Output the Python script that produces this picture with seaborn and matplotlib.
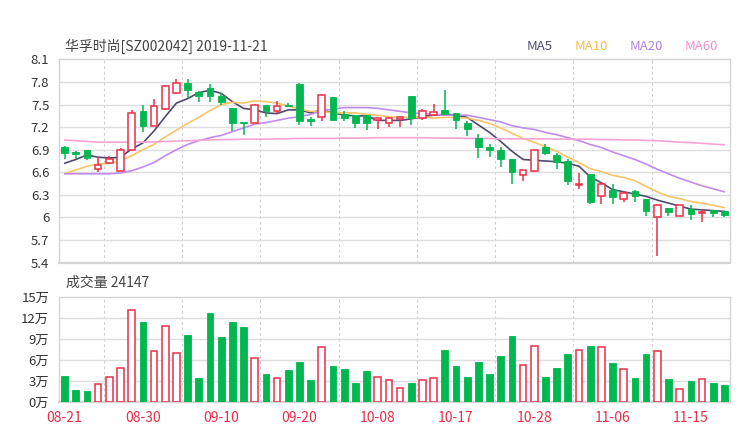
import matplotlib
matplotlib.use("Agg")
import matplotlib.pyplot as plt
import seaborn as sns
import numpy as np
import pandas as pd

# ---------------- data ----------------
dates = ["08-21", "08-22", "08-23", "08-26", "08-27", "08-28", "08-29", "08-30",
         "09-02", "09-03", "09-04", "09-05", "09-06", "09-09", "09-10", "09-11", "09-12",
         "09-16", "09-17", "09-18", "09-19", "09-20", "09-23", "09-24", "09-25", "09-26", "09-27", "09-30",
         "10-08", "10-09", "10-10", "10-11", "10-14", "10-15", "10-16", "10-17", "10-18",
         "10-21", "10-22", "10-23", "10-24", "10-25", "10-28", "10-29", "10-30", "10-31",
         "11-01", "11-04", "11-05", "11-06", "11-07", "11-08", "11-11", "11-12", "11-13",
         "11-14", "11-15", "11-18", "11-19", "11-20"]

opens = [6.94, 6.87, 6.90, 6.64, 6.72, 6.62, 6.90, 7.41, 7.21, 7.44,
         7.66, 7.79, 7.67, 7.72, 7.62, 7.46, 7.27, 7.25, 7.50, 7.41,
         7.50, 7.78, 7.31, 7.34, 7.60, 7.38, 7.36, 7.36, 7.29, 7.25,
         7.31, 7.62, 7.32, 7.36, 7.43, 7.39, 7.25, 7.05, 6.94, 6.90,
         6.77, 6.56, 6.62, 6.94, 6.83, 6.75, 6.43, 6.58, 6.28, 6.37,
         6.24, 6.35, 6.25, 6.00, 6.13, 6.02, 6.11, 6.06, 6.10, 6.08]
highs = [6.95, 6.88, 6.90, 6.80, 6.82, 6.92, 7.43, 7.50, 7.57, 7.76,
         7.84, 7.84, 7.68, 7.78, 7.65, 7.46, 7.27, 7.51, 7.50, 7.55,
         7.52, 7.79, 7.34, 7.64, 7.60, 7.41, 7.36, 7.36, 7.32, 7.34,
         7.34, 7.62, 7.44, 7.51, 7.70, 7.39, 7.28, 7.11, 6.97, 6.94,
         6.77, 6.63, 6.90, 6.97, 6.86, 6.77, 6.59, 6.58, 6.47, 6.44,
         6.35, 6.36, 6.25, 6.18, 6.13, 6.17, 6.16, 6.11, 6.10, 6.08]
lows = [6.78, 6.78, 6.76, 6.61, 6.71, 6.62, 6.90, 7.14, 7.21, 7.43,
        7.64, 7.59, 7.54, 7.54, 7.49, 7.15, 7.10, 7.25, 7.34, 7.37,
        7.47, 7.23, 7.22, 7.28, 7.29, 7.28, 7.19, 7.16, 7.17, 7.20,
        7.20, 7.23, 7.30, 7.36, 7.38, 7.17, 7.08, 6.79, 6.80, 6.67,
        6.44, 6.49, 6.60, 6.83, 6.65, 6.43, 6.38, 6.18, 6.18, 6.18,
        6.20, 6.21, 6.02, 5.48, 6.02, 6.02, 5.96, 5.94, 6.00, 6.01]
closes = [6.85, 6.84, 6.79, 6.70, 6.77, 6.89, 7.39, 7.21, 7.48, 7.75,
          7.79, 7.69, 7.61, 7.62, 7.53, 7.26, 7.25, 7.50, 7.42, 7.48,
          7.48, 7.28, 7.28, 7.63, 7.29, 7.32, 7.25, 7.25, 7.32, 7.32,
          7.33, 7.32, 7.41, 7.40, 7.38, 7.29, 7.17, 6.93, 6.90, 6.78,
          6.61, 6.63, 6.89, 6.85, 6.74, 6.48, 6.44, 6.21, 6.44, 6.27,
          6.33, 6.29, 6.08, 6.16, 6.07, 6.17, 6.05, 6.07, 6.06, 6.03]
# volume in 万 (10k shares)
volumes = [3.76, 1.71, 1.57, 2.67, 3.57, 4.86, 13.14, 11.48, 7.29, 10.86,
           7.00, 9.62, 3.48, 12.81, 9.33, 11.43, 10.71, 6.29, 4.05, 3.52,
           4.67, 5.81, 3.24, 7.86, 5.14, 4.76, 2.71, 4.43, 3.62, 3.24,
           2.10, 2.76, 3.24, 3.43, 7.52, 5.19, 3.62, 5.71, 4.10, 6.67,
           9.43, 5.33, 8.00, 3.62, 4.90, 6.90, 7.52, 8.00, 7.86, 5.62,
           4.81, 3.43, 6.95, 7.33, 3.29, 1.95, 3.05, 3.38, 2.71, 2.41]

ma5 = [6.72, 6.77, 6.83, 6.80, 6.79, 6.80, 6.91, 6.99, 7.15, 7.34,
       7.52, 7.58, 7.66, 7.69, 7.65, 7.54, 7.45, 7.43, 7.39, 7.38,
       7.43, 7.43, 7.39, 7.43, 7.39, 7.36, 7.35, 7.35, 7.29, 7.29,
       7.29, 7.31, 7.34, 7.36, 7.37, 7.36, 7.33, 7.23, 7.13, 7.01,
       6.88, 6.77, 6.76, 6.75, 6.74, 6.72, 6.68, 6.54, 6.46, 6.37,
       6.34, 6.31, 6.28, 6.23, 6.19, 6.15, 6.11, 6.10, 6.09, 6.08]
ma10 = [6.58, 6.63, 6.68, 6.71, 6.72, 6.75, 6.82, 6.90, 6.97, 7.07,
        7.16, 7.25, 7.33, 7.42, 7.50, 7.53, 7.52, 7.55, 7.54, 7.52,
        7.48, 7.44, 7.41, 7.41, 7.39, 7.39, 7.39, 7.37, 7.36, 7.34,
        7.33, 7.33, 7.34, 7.32, 7.33, 7.33, 7.32, 7.29, 7.25, 7.19,
        7.12, 7.05, 7.00, 6.94, 6.88, 6.80, 6.73, 6.65, 6.61, 6.56,
        6.53, 6.49, 6.41, 6.34, 6.28, 6.25, 6.21, 6.19, 6.16, 6.13]
ma20 = [6.58, 6.58, 6.58, 6.58, 6.58, 6.59, 6.62, 6.67, 6.73, 6.82,
        6.90, 6.97, 7.02, 7.06, 7.09, 7.14, 7.19, 7.24, 7.26, 7.29,
        7.32, 7.34, 7.37, 7.42, 7.44, 7.46, 7.46, 7.46, 7.45, 7.43,
        7.41, 7.39, 7.38, 7.37, 7.36, 7.36, 7.36, 7.33, 7.30, 7.27,
        7.22, 7.19, 7.17, 7.13, 7.10, 7.06, 7.02, 6.97, 6.93, 6.87,
        6.82, 6.77, 6.71, 6.64, 6.58, 6.52, 6.47, 6.42, 6.38, 6.34]
ma60 = [7.03, 7.02, 7.01, 7.00, 7.00, 7.00, 7.00, 7.00, 7.005, 7.01,
        7.015, 7.02, 7.025, 7.03, 7.035, 7.035, 7.04, 7.04, 7.04, 7.045,
        7.045, 7.05, 7.05, 7.05, 7.05, 7.055, 7.055, 7.055, 7.06, 7.06,
        7.06, 7.06, 7.06, 7.055, 7.055, 7.055, 7.05, 7.05, 7.05, 7.045,
        7.045, 7.045, 7.045, 7.045, 7.04, 7.04, 7.04, 7.04, 7.035, 7.035,
        7.03, 7.03, 7.025, 7.02, 7.01, 7.00, 6.995, 6.985, 6.975, 6.965]

price_ticks = [5.4, 5.7, 6.0, 6.3, 6.6, 6.9, 7.2, 7.5, 7.8, 8.1]
price_tick_labels = ["5.4", "5.7", "6", "6.3", "6.6", "6.9", "7.2", "7.5", "7.8", "8.1"]
vol_ticks = [0, 3, 6, 9, 12, 15]
vol_tick_labels = ["0万", "3万", "6万", "9万", "12万", "15万"]
title_text = "华孚时尚[SZ002042] 2019-11-21"
vol_title = "成交量 24147"
ma_names = ["MA5", "MA10", "MA20", "MA60"]

# ---------------- style ----------------
sns.set_theme(style="white")
plt.rcParams["font.family"] = ["Noto Sans CJK SC", "DejaVu Sans"]

RED = "#e8304a"
GREEN = "#00b84f"
GRID = "#dddddd"
SPINE = "#d4d4d4"
TXT = "#333333"
ma_colors = ["#4e4b6e", "#f9c46a", "#c08ced", "#f8a3d6"]
legend_colors = ["#4e4b6e", "#f8bd4f", "#b57ee8", "#f78fca"]

n = len(closes)
df = pd.DataFrame({"i": np.arange(n), "open": opens, "high": highs, "low": lows,
                   "close": closes, "vol": volumes, "MA5": ma5, "MA10": ma10,
                   "MA20": ma20, "MA60": ma60})
up = df["close"] >= df["open"]

fig = plt.figure(figsize=(7.4, 4.4), dpi=100)
ax = fig.add_axes([59 / 740, 1 - 262.5 / 440, 671 / 740, 203 / 440])
axv = fig.add_axes([59 / 740, 1 - 402.3 / 440, 671 / 740, 105 / 440])

for a in (ax, axv):
    a.set_xlim(-0.5, n - 0.5)
    for s in a.spines.values():
        s.set_color(SPINE)
        s.set_linewidth(1.0)
    a.spines["bottom"].set_linewidth(1.6)
    for k in np.arange(3.5, n - 0.5, 7):
        a.axvline(k, color="#cfcfcf", lw=0.8, ls=(0, (2.5, 2.5)), zorder=0)
    a.tick_params(axis="both", length=0, labelsize=9.5, colors=TXT, pad=7)

# ---- price panel ----
ax.set_ylim(5.4, 8.1)
ax.set_yticks(price_ticks)
ax.set_yticklabels(price_tick_labels)
for t in price_ticks[1:-1]:
    ax.axhline(t, color=GRID, lw=1.0, zorder=0)
ax.set_xticks([])

w = 0.6
for _, r in df.iterrows():
    o, h, l, c, x = r["open"], r["high"], r["low"], r["close"], r["i"]
    top, bot = max(o, c), min(o, c)
    body = max(top - bot, 0.012)
    if c >= o:
        ax.vlines(x, top, h, color=RED, lw=1.1, zorder=3)
        ax.vlines(x, l, bot, color=RED, lw=1.1, zorder=3)
        ax.bar(x, body, bottom=bot, width=w, facecolor="white", edgecolor=RED,
               linewidth=1.1, zorder=4)
    else:
        ax.vlines(x, l, h, color=GREEN, lw=1.1, zorder=3)
        ax.bar(x, body, bottom=bot, width=w, facecolor=GREEN, edgecolor=GREEN,
               linewidth=0.6, zorder=4)

long = df.melt(id_vars="i", value_vars=ma_names, var_name="MA", value_name="v")
sns.lineplot(data=long, x="i", y="v", hue="MA", palette=dict(zip(ma_names, ma_colors)),
             ax=ax, lw=1.2, legend=False, zorder=2, sort=True)
ax.set_xlabel("")
ax.set_ylabel("")
ax.set_xlim(-0.5, n - 0.5)

# ---- volume panel ----
axv.set_ylim(0, 15)
axv.set_yticks(vol_ticks)
axv.set_yticklabels(vol_tick_labels)
for t in vol_ticks[1:-1]:
    axv.axhline(t, color=GRID, lw=1.0, zorder=0)
for _, r in df.iterrows():
    x, v = r["i"], r["vol"]
    if r["close"] >= r["open"]:
        axv.bar(x, v, width=w, facecolor="white", edgecolor=RED, linewidth=1.1, zorder=3)
    else:
        axv.bar(x, v, width=w, facecolor=GREEN, edgecolor=GREEN, linewidth=0.6, zorder=3)
axv.set_xticks(np.arange(0, n, 7))
axv.set_xticklabels(dates[::7])
axv.tick_params(axis="x", colors=RED, labelsize=10, pad=6)
axv.set_xlim(-0.5, n - 0.5)

# ---- texts ----
fig.text(65 / 740, 1 - 46 / 440, title_text, fontsize=10, color="#444444",
         va="center", ha="left")
leg_x = [527, 575, 630, 685]
for name, col, xp in zip(ma_names, legend_colors, leg_x):
    fig.text(xp / 740, 1 - 46 / 440, name, fontsize=9.5, color=col, va="center", ha="left")
fig.text(66 / 740, 1 - 283 / 440, vol_title, fontsize=10, color="#444444",
         va="center", ha="left")

fig.savefig("out.png", dpi=100)
